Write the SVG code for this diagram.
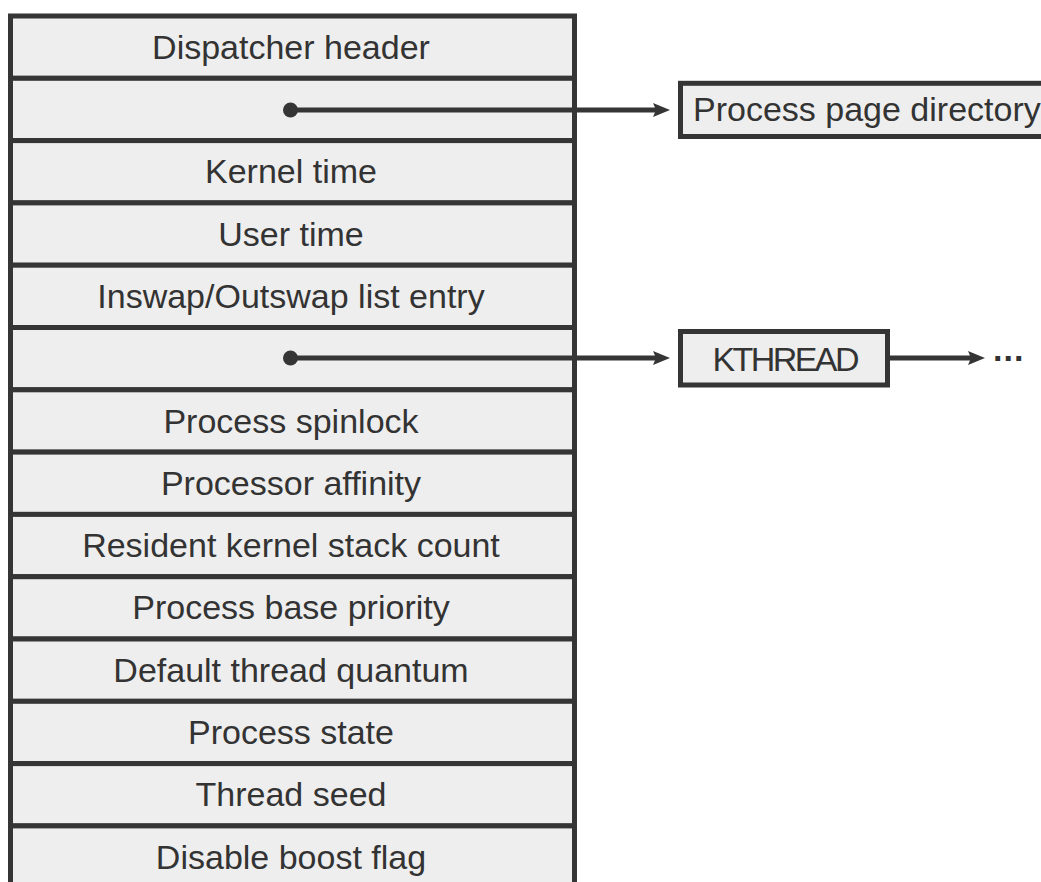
<svg xmlns="http://www.w3.org/2000/svg" width="1041" height="882" viewBox="0 0 1041 882">
<style>
.cell{fill:#eeeeee;stroke:#353535;stroke-width:5}
.lbl{font-family:"Liberation Sans",Arial,sans-serif;font-size:34px;fill:#333333;text-anchor:middle}
.lbll{font-family:"Liberation Sans",Arial,sans-serif;font-size:34px;fill:#333333}
.conn{stroke:#353535;stroke-width:5;fill:none}
.dot{fill:#353535}
</style>
<defs>
<marker id="arr" markerUnits="userSpaceOnUse" markerWidth="18" markerHeight="15" refX="5" refY="7" orient="auto" viewBox="0 0 18 14">
<path d="M0,0 L17,7 L0,14 L3,7 z" fill="#353535"/>
</marker>
</defs>
<rect x="0" y="0" width="1041" height="882" fill="#ffffff"/>
<g id="eprocess">
<g id="row-dispatcher-header"><rect class="cell" x="10.5" y="16" width="564" height="62.3"/><text class="lbl" x="291" y="58.7">Dispatcher header</text></g>
<g id="row-page-directory"><rect class="cell" x="10.5" y="78.3" width="564" height="62.3"/></g>
<g id="row-kernel-time"><rect class="cell" x="10.5" y="140.6" width="564" height="62.3"/><text class="lbl" x="291" y="183.3">Kernel time</text></g>
<g id="row-user-time"><rect class="cell" x="10.5" y="202.9" width="564" height="62.3"/><text class="lbl" x="291" y="245.6">User time</text></g>
<g id="row-inswap"><rect class="cell" x="10.5" y="265.2" width="564" height="62.3"/><text class="lbl" x="291" y="307.9">Inswap/Outswap list entry</text></g>
<g id="row-thread-list"><rect class="cell" x="10.5" y="327.5" width="564" height="62.3"/></g>
<g id="row-spinlock"><rect class="cell" x="10.5" y="389.8" width="564" height="62.3"/><text class="lbl" x="291" y="432.5">Process spinlock</text></g>
<g id="row-affinity"><rect class="cell" x="10.5" y="452.1" width="564" height="62.3"/><text class="lbl" x="291" y="494.8">Processor affinity</text></g>
<g id="row-stack-count"><rect class="cell" x="10.5" y="514.4" width="564" height="62.3"/><text class="lbl" x="291" y="557.1">Resident kernel stack count</text></g>
<g id="row-base-priority"><rect class="cell" x="10.5" y="576.7" width="564" height="62.3"/><text class="lbl" x="291" y="619.4">Process base priority</text></g>
<g id="row-quantum"><rect class="cell" x="10.5" y="639" width="564" height="62.3"/><text class="lbl" x="291" y="681.7">Default thread quantum</text></g>
<g id="row-state"><rect class="cell" x="10.5" y="701.3" width="564" height="62.3"/><text class="lbl" x="291" y="744">Process state</text></g>
<g id="row-thread-seed"><rect class="cell" x="10.5" y="763.6" width="564" height="62.3"/><text class="lbl" x="291" y="806.3">Thread seed</text></g>
<g id="row-boost"><rect class="cell" x="10.5" y="825.9" width="564" height="80"/><text class="lbl" x="291" y="868.6">Disable boost flag</text></g>
</g>
<g id="page-directory"><rect class="cell" x="680.5" y="83.3" width="380" height="53.2"/><text class="lbll" x="693" y="121">Process page directory</text></g>
<g id="kthread"><rect class="cell" x="680.5" y="331.5" width="207" height="53.5"/><text class="lbl" x="786" y="371" textLength="147">KTHREAD</text></g>
<g id="more"><text class="lbll" x="993" y="361" font-weight="bold" letter-spacing="1">...</text></g>
<g id="connectors">
<circle class="dot" cx="290.5" cy="110" r="7.5"/>
<line class="conn" x1="290.5" y1="110" x2="658" y2="110" marker-end="url(#arr)"/>
<circle class="dot" cx="290.5" cy="358" r="7.5"/>
<line class="conn" x1="290.5" y1="358" x2="658" y2="358" marker-end="url(#arr)"/>
<line class="conn" x1="889" y1="358" x2="973" y2="358" marker-end="url(#arr)"/>
</g>
</svg>
